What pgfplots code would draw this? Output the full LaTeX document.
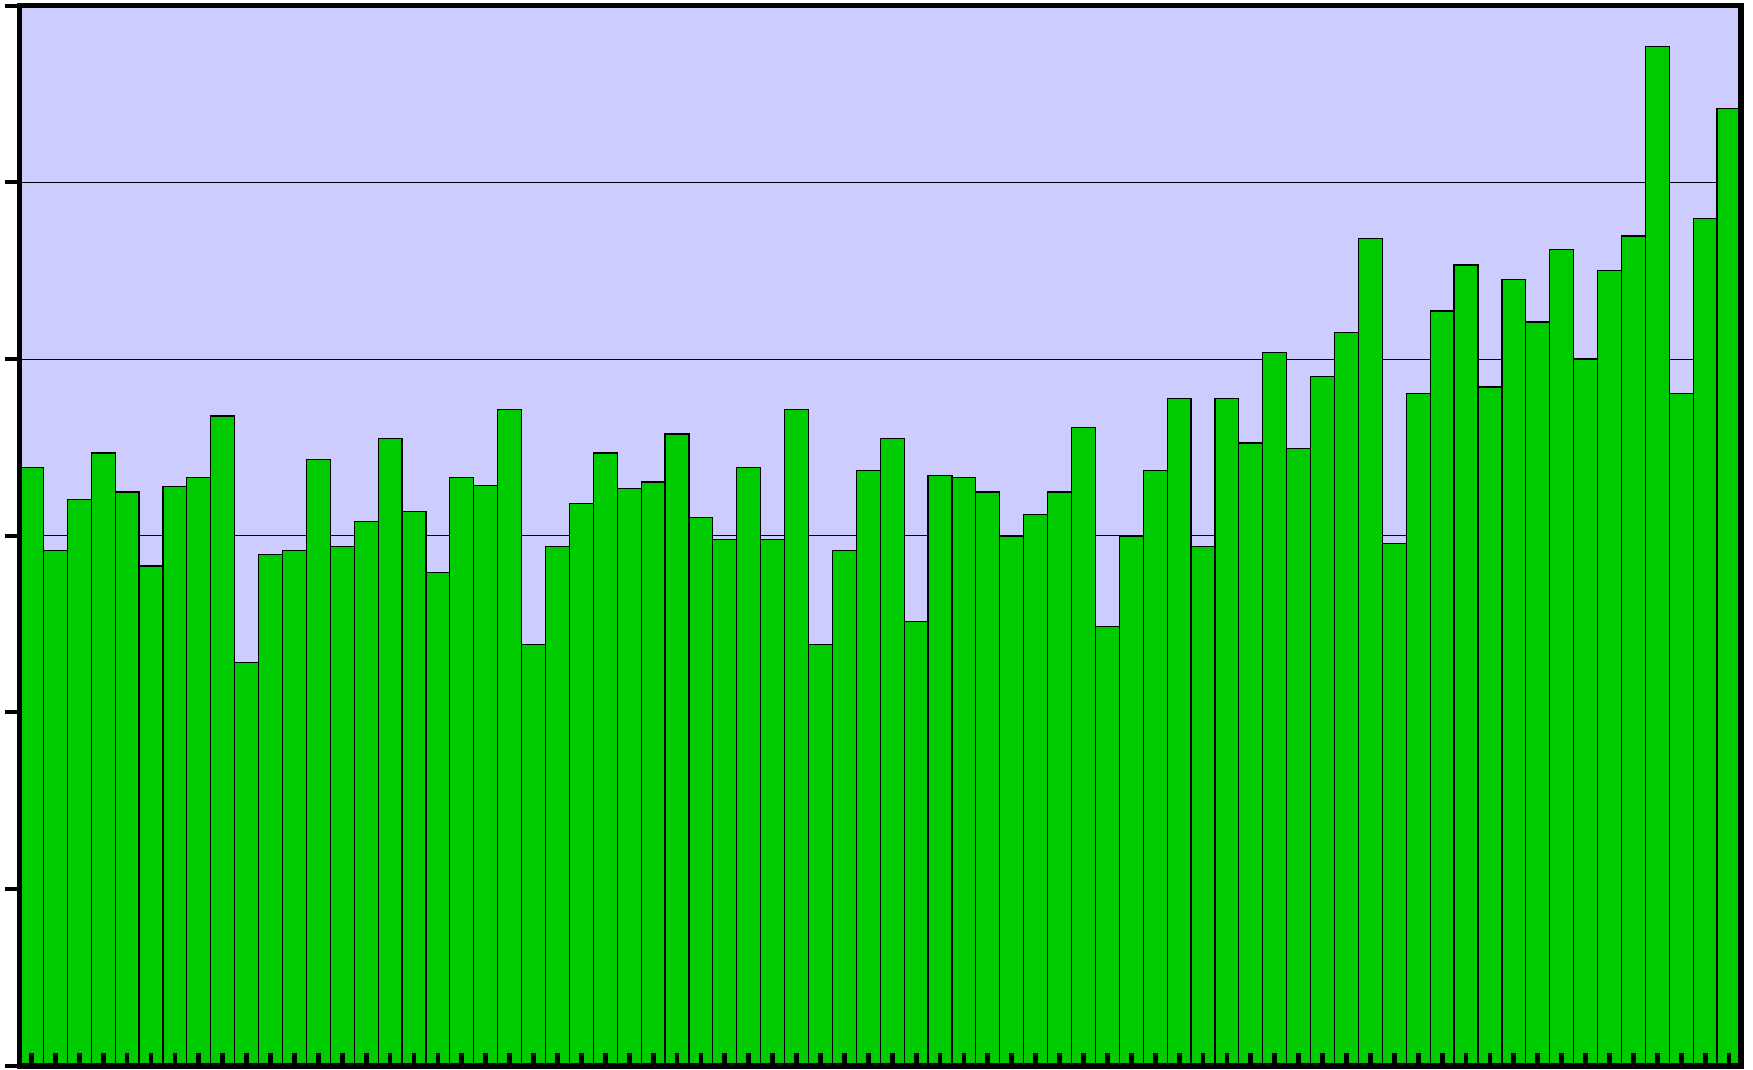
\documentclass[border=0pt]{standalone}
\usepackage{pgfplots}
\usepackage{pgfplotstable}
\pgfplotsset{compat=1.18}
\definecolor{bgl}{RGB}{204,204,255}
\definecolor{barg}{RGB}{0,202,0}
\pgfplotstableread{
x y
1 3.386
2 2.918
3 3.203
4 3.468
5 3.247
6 2.829
7 3.278
8 3.329
9 3.677
10 2.285
11 2.892
12 2.918
13 3.430
14 2.937
15 3.082
16 3.551
17 3.139
18 2.791
19 3.329
20 3.285
21 3.715
22 2.386
23 2.937
24 3.184
25 3.468
26 3.266
27 3.304
28 3.576
29 3.101
30 2.981
31 3.386
32 2.981
33 3.715
34 2.386
35 2.918
36 3.367
37 3.551
38 2.513
39 3.342
40 3.329
41 3.247
42 2.994
43 3.120
44 3.247
45 3.614
46 2.487
47 2.994
48 3.367
49 3.778
50 2.937
51 3.778
52 3.525
53 4.038
54 3.494
55 3.899
56 4.152
57 4.684
58 2.956
59 3.804
60 4.272
61 4.532
62 3.842
63 4.449
64 4.209
65 4.620
66 4.000
67 4.500
68 4.696
69 5.766
70 3.804
71 4.797
72 5.418
}\datatable
\pgfplotsset{
  common/.style={
    at={(4.875pt,0.75pt)}, anchor=south west,
    scale only axis, width=430.375pt, height=265.125pt,
    xmin=0.5, xmax=72.5, ymin=0, ymax=6,
    xticklabels={}, yticklabels={},
  },
}
\begin{document}
\begin{tikzpicture}
\begin{axis}[
  common,
  xtick=\empty, ytick={0,1,2,3,4,5,6},
  ytick pos=left,
  tick align=outside,
  major tick length=3.6pt,
  y tick style={line width=1pt, black},
  ymajorgrids, grid style={black, line width=0.25pt},
  axis line style={line width=1.4pt, black},
  axis background/.style={fill=bgl},
  ybar, bar width=1,
]
\addplot[fill=barg, draw=black, line width=0.3pt] table[x=x,y=y] {\datatable};
\end{axis}
\begin{axis}[
  common,
  xtick={1,...,72}, ytick=\empty,
  xtick pos=bottom,
  tick align=inside,
  major tick length=3.3pt,
  x tick style={line width=1.2pt, black},
  axis line style={line width=1.4pt, black},
]
\end{axis}
\pgfresetboundingbox
\path[use as bounding box] (0,0) rectangle (438.25pt,267.25pt);
\end{tikzpicture}
\end{document}
